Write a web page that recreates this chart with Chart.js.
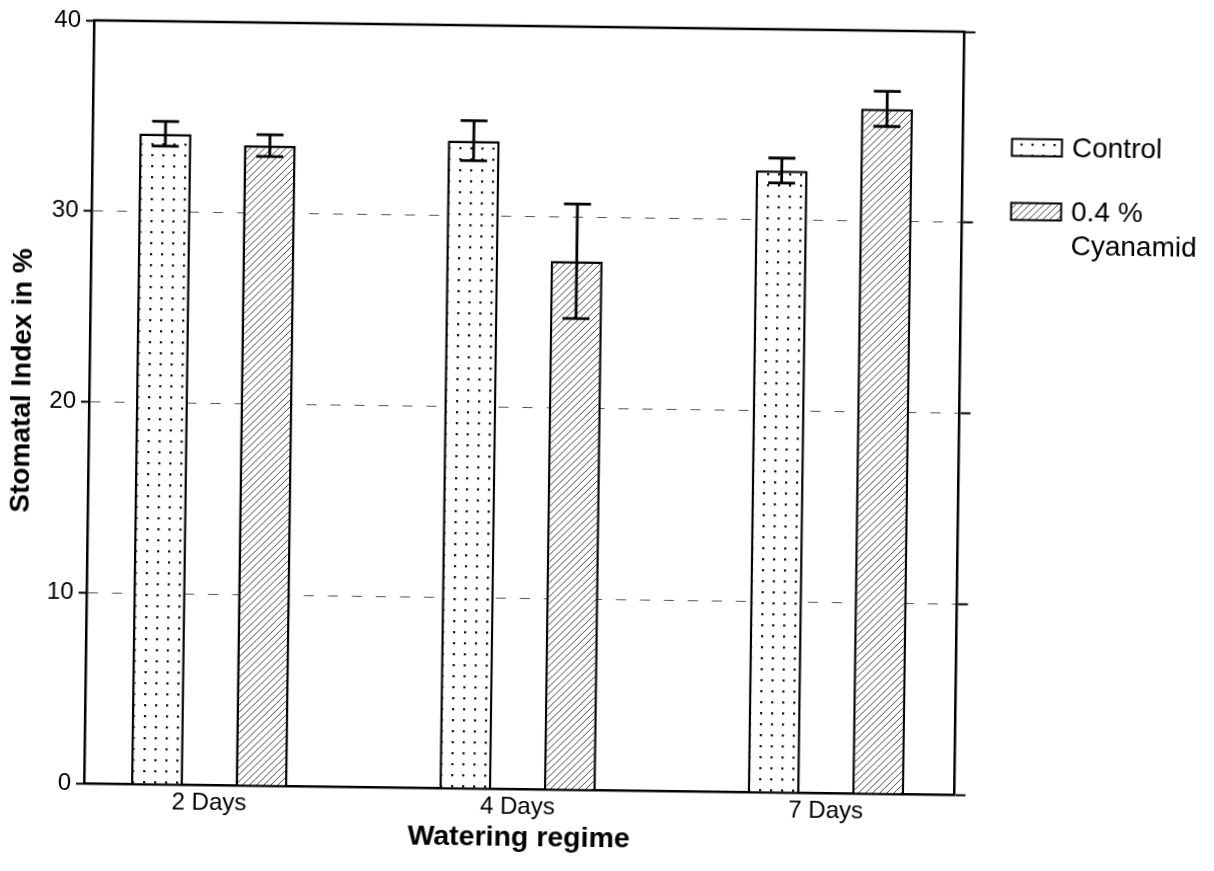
<!DOCTYPE html>
<html>
<head>
<meta charset="utf-8">
<title>Stomatal Index</title>
<script src="https://cdn.jsdelivr.net/npm/chart.js@4.4.1/dist/chart.umd.min.js"></script>
<style>
  html, body { margin: 0; padding: 0; background: #fff; overflow: hidden; }
  #wrap { width: 1214px; height: 871px; position: relative; }
  #chart { display: block; transform: rotate(0.75deg); transform-origin: 524.25px 407.5px; }
</style>
</head>
<body>
<div id="wrap"><canvas id="chart" width="1214" height="871"></canvas></div>
<script>
// Watering regimes on the x axis
const categories = ['2 Days', '4 Days', '7 Days'];

// Stomatal index (%) per regime, with error half-widths
const controlValues = [34.1, 33.95, 32.6];
const controlErrors = [0.65, 1.05, 0.65];
const cyanamidValues = [33.55, 27.7, 35.9];
const cyanamidErrors = [0.57, 3.0, 0.92];

// Series names, axis titles and y tick values
const seriesNames = ['Control', '0.4 % Cyanamid'];
const legendLines = [['Control'], ['0.4 %', 'Cyanamid']];
const yTitle = 'Stomatal Index in %';
const xTitle = 'Watering regime';
const yTicks = [0, 10, 20, 30, 40];

const FONT = "'Liberation Sans', Arial, Helvetica, sans-serif";

// Fill patterns: stippled dots and diagonal hatching
function dotPattern() {
  const c = document.createElement('canvas');
  c.width = 11; c.height = 11;
  const g = c.getContext('2d');
  g.fillStyle = '#fff'; g.fillRect(0, 0, 11, 11);
  g.fillStyle = '#111'; g.fillRect(5, 5, 2.2, 2.2);
  return g.createPattern(c, 'repeat');
}
function hatchPattern() {
  const s = 7;
  const c = document.createElement('canvas');
  c.width = s; c.height = s;
  const g = c.getContext('2d');
  g.fillStyle = '#fff'; g.fillRect(0, 0, s, s);
  g.strokeStyle = '#444'; g.lineWidth = 1;
  g.beginPath();
  g.moveTo(-1, s + 1); g.lineTo(s + 1, -1);
  g.moveTo(-1, 1); g.lineTo(1, -1);
  g.moveTo(s - 1, s + 1); g.lineTo(s + 1, s - 1);
  g.stroke();
  return g.createPattern(c, 'repeat');
}
const fills = [dotPattern(), hatchPattern()];

const errorsBySeries = [controlErrors, cyanamidErrors];

// Error bars with caps, plus the top frame line
const errorBarPlugin = {
  id: 'errorBars',
  afterDatasetsDraw(chart) {
    const ctx = chart.ctx;
    const y = chart.scales.y;
    const area = chart.chartArea;
    ctx.save();
    ctx.strokeStyle = '#000';
    ctx.lineWidth = 2.5;
    ctx.beginPath();
    ctx.moveTo(area.left - 1, area.top);
    ctx.lineTo(area.right + 1, area.top);
    ctx.stroke();
    ctx.lineWidth = 2.8;
    chart.data.datasets.forEach((ds, di) => {
      const meta = chart.getDatasetMeta(di);
      meta.data.forEach((bar, i) => {
        const v = ds.data[i].y;
        const e = errorsBySeries[di][i];
        const yt = y.getPixelForValue(v + e);
        const yb = y.getPixelForValue(v - e);
        const half = 13.5;
        ctx.beginPath();
        ctx.moveTo(bar.x, yt); ctx.lineTo(bar.x, yb);
        ctx.moveTo(bar.x - half, yt); ctx.lineTo(bar.x + half, yt);
        ctx.moveTo(bar.x - half, yb); ctx.lineTo(bar.x + half, yb);
        ctx.stroke();
      });
    });
    ctx.restore();
  }
};

// Legend to the right of the plot, and the vertical axis title
const legendPlugin = {
  id: 'sideLegend',
  afterDraw(chart) {
    const ctx = chart.ctx;
    const area = chart.chartArea;
    const bx = area.right + 49;
    const rows = [area.top + 115, area.top + 179];
    ctx.save();
    ctx.font = '28px ' + FONT;
    ctx.textBaseline = 'middle';
    rows.forEach((cy, i) => {
      ctx.fillStyle = fills[i];
      ctx.fillRect(bx, cy - 8.5, 50, 17);
      ctx.strokeStyle = '#000';
      ctx.lineWidth = 2;
      ctx.strokeRect(bx, cy - 8.5, 50, 17);
      ctx.fillStyle = '#000';
      legendLines[i].forEach((t, k) => ctx.fillText(t, bx + 60, cy + 1 + k * 34));
    });
    ctx.translate(22, area.top + 361);
    ctx.rotate(-Math.PI / 2);
    ctx.font = 'bold 28px ' + FONT;
    ctx.textAlign = 'center';
    ctx.fillText(yTitle, 0, 0);
    ctx.restore();
  }
};

const datasets = [controlValues, cyanamidValues].map((vals, s) => ({
  label: seriesNames[s],
  data: categories.map((c, i) => ({ x: i + 1, y: vals[i] })),
  backgroundColor: fills[s],
  borderColor: '#000',
  borderWidth: 2.5,
  borderSkipped: 'start',
  categoryPercentage: 0.678,
  barPercentage: 0.497
}));

new Chart(document.getElementById('chart'), {
  type: 'bar',
  data: { datasets },
  plugins: [errorBarPlugin, legendPlugin],
  options: {
    responsive: false,
    animation: false,
    layout: { padding: { top: 26, left: 0, right: 0, bottom: 0 } },
    plugins: { legend: { display: false }, tooltip: { enabled: false } },
    scales: {
      x: {
        type: 'linear',
        position: 'bottom',
        offset: false,
        bounds: 'data',
        min: 0.594,
        max: 3.417,
        afterBuildTicks: axis => { axis.ticks = categories.map((c, i) => ({ value: i + 1 })); },
        afterFit: s => { s.height = 82; },
        ticks: {
          callback: v => categories[v - 1],
          autoSkip: false, maxRotation: 0,
          padding: 4,
          color: '#000',
          font: { family: FONT, size: 24 }
        },
        grid: { display: false, drawTicks: false, offset: false },
        border: { display: true, color: '#000', width: 2.5 },
        title: {
          display: true,
          text: xTitle,
          color: '#000',
          font: { family: FONT, size: 28.5, weight: 'bold' },
          padding: { top: 0, bottom: 16 }
        }
      },
      y: {
        position: 'left',
        min: 0,
        max: 40,
        afterBuildTicks: axis => { axis.ticks = yTicks.map(v => ({ value: v })); },
        afterFit: s => { s.width = 89; },
        ticks: { padding: 5, color: '#000', font: { family: FONT, size: 24 } },
        grid: {
          color: '#555', lineWidth: 1,
          drawTicks: true, tickLength: 8, tickColor: '#000', tickWidth: 2
        },
        border: { display: true, color: '#000', width: 2.5, dash: [10, 14] },
        title: { display: false }
      },
      y2: {
        position: 'right',
        min: 0,
        max: 40,
        afterBuildTicks: axis => { axis.ticks = yTicks.map(v => ({ value: v })); },
        afterFit: s => { s.width = 254.5; },
        ticks: { display: false },
        grid: {
          drawOnChartArea: false,
          drawTicks: true, tickLength: 11, tickColor: '#000', tickWidth: 2
        },
        border: { display: true, color: '#000', width: 2.5 }
      }
    }
  }
});
</script>
</body>
</html>
